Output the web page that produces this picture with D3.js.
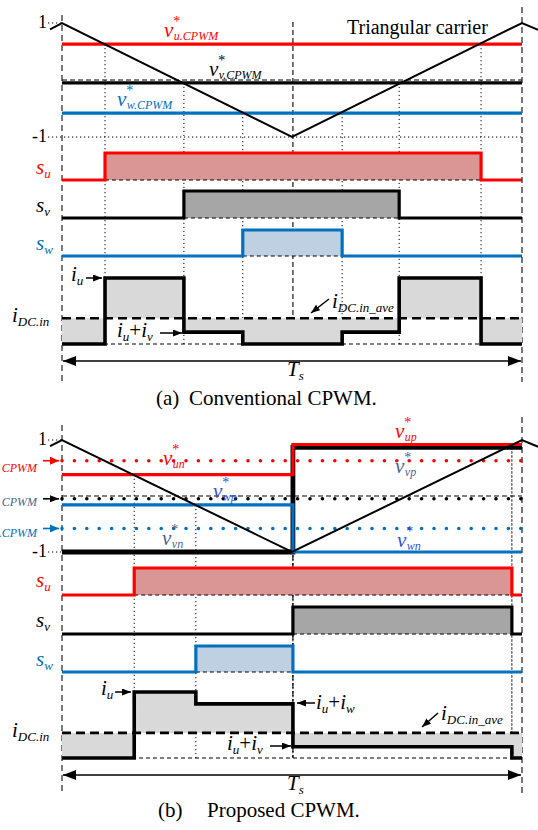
<!DOCTYPE html>
<html><head><meta charset="utf-8">
<script src="https://cdn.jsdelivr.net/npm/d3@7"></script>
<style>body{margin:0;background:#fff;}svg{display:block;}</style>
</head><body>
<script>
// ---------- data ----------
const carrierT = [-0.026, 0, 0.5, 1, 1.035];
const carrierV = [0.89, 1, -1, 1, 0.88];
const phases = ["u", "v", "w"];
const phaseColors = ["#ff0000", "#000000", "#0070c0"];
const fillColors = ["#d99694", "#a6a6a6", "#bfd0e3"];
// (a) conventional CPWM
const refA = [0.63, -0.05, -0.58];
const onA = [0.0935, 0.265, 0.393];
const offA = [0.911, 0.733, 0.609];
const idcTA = [0, 0.0935, 0.265, 0.393, 0.609, 0.733, 0.911, 1];
const idcVA = [0, 1, 0.18, 0, 0.18, 1, 0, 0];
const avgA = 0.39;
// (b) proposed CPWM
const splitT = 0.502;
const refBn = [0.38, -1, -0.16];
const refBp = [0.92, 0.87, -1];
const onB = [0.157, 0.502, 0.291];
const offB = [0.978, 0.978, 0.502];
const idcTB = [0, 0.157, 0.291, 0.502, 0.978, 1];
const idcVB = [0, 1, 0.82, 0.17, 0, 0];
const avgB = 0.38;
const refLabelsA = ["u.CPWM", "v.CPWM", "w.CPWM"];
const refLabelsBn = ["un", "vn", "wp"];
const refLabelsBp = ["up", "vp", "wn"];

// ---------- setup ----------
const SERIF = "'Liberation Serif','Times New Roman',serif";
const RED = "#ff0000", BLUE = "#0070c0", SLATE = "#4a6490", BBLUE = "#2f4fe0";
const svg = d3.select("body").append("svg").attr("width", 538).attr("height", 830);
const defs = svg.append("defs");
function marker(id, color, w, h) {
  defs.append("marker").attr("id", id).attr("markerUnits", "userSpaceOnUse")
    .attr("markerWidth", w).attr("markerHeight", h).attr("refX", w).attr("refY", h / 2)
    .attr("orient", "auto-start-reverse")
    .append("path").attr("d", `M0,0L${w},${h / 2}L0,${h}Z`).attr("fill", color);
}
marker("ak", "#000", 9, 7); marker("ar", RED, 9, 8); marker("ab", BLUE, 9, 8); marker("aT", "#000", 13, 10);

const xs = d3.scaleLinear().domain([0, 1]).range([62, 522]);

function richText(x, y, parts, o = {}) {
  const t = svg.append("text").attr("x", x).attr("y", y).attr("font-family", SERIF)
    .attr("fill", o.color || "#000").attr("text-anchor", o.anchor || "start");
  let shift = 0;
  parts.forEach(([s, k]) => {
    const target = k === "s" ? 4 : 0;
    t.append("tspan").attr("dy", target - shift)
      .attr("font-size", k === "s" ? (o.sub || 13) : (o.size || 21))
      .attr("font-style", k === "n" ? "normal" : "italic").text(s);
    shift = target;
  });
  return t;
}
function vstar(x, y, sub, color) {
  const t = svg.append("text").attr("x", x).attr("y", y).attr("fill", color)
    .attr("font-family", SERIF).attr("font-style", "italic");
  t.append("tspan").attr("font-size", 21).text("v");
  t.append("tspan").attr("font-size", 14).attr("font-style", "normal").attr("dx", 0).attr("dy", -11).text("*");
  t.append("tspan").attr("font-size", 12).attr("dx", -6.5).attr("dy", 14).text(sub);
}
function line(x1, y1, x2, y2, o = {}) {
  const l = svg.append("line").attr("x1", x1).attr("y1", y1).attr("x2", x2).attr("y2", y2)
    .attr("stroke", o.color || "#000").attr("stroke-width", o.w || 1);
  if (o.dash) l.attr("stroke-dasharray", o.dash);
  if (o.cap) l.attr("stroke-linecap", o.cap);
  if (o.end) l.attr("marker-end", `url(#${o.end})`);
  if (o.start) l.attr("marker-start", `url(#${o.start})`);
  return l;
}
const DOT = "1.2,2.8";

function panel(P) {
  const yC = d3.scaleLinear().domain([-1, 1]).range(P.carRange);
  const yI = d3.scaleLinear().domain([0, 1]).range(P.iRange);
  line(xs(0), P.top, xs(0), P.bottom, { color: "#7a7a7a", w: 2, dash: "6,4" });
  line(xs(1), P.top - 8, xs(1), P.bottom, { color: "#555", w: 1.6, dash: "6,4" });
  line(48, yC(1), xs(0), yC(1), { dash: DOT });
  line(48, yC(-1), P.fullMinus ? xs(1) : xs(0), yC(-1), { dash: DOT });
  svg.append("text").attr("x", 47).attr("y", yC(1) + 5).attr("text-anchor", "end")
    .attr("font-family", SERIF).attr("font-size", 18).text("1");
  svg.append("text").attr("x", 47).attr("y", yC(-1) + 5).attr("text-anchor", "end")
    .attr("font-family", SERIF).attr("font-size", 18).text("-1");
  line(xs(0), yC(0), xs(1), yC(0), { dash: "5,3", w: 1.2 });
  P.on.forEach((t, i) => {
    line(xs(t), P.startY(i, "on"), xs(t), yI(0), { dash: DOT });
    line(xs(P.off[i]), P.startY(i, "off"), xs(P.off[i]), yI(0), { dash: DOT });
  });
  line(xs(splitT), P.centerTop, xs(splitT), P.centerBottom, { dash: "5,3", w: 1.1 });
  P.refs(yC);
  svg.append("path").datum(carrierT.map((t, i) => [t, carrierV[i]]))
    .attr("d", d3.line().x(d => xs(d[0])).y(d => yC(d[1])))
    .attr("fill", "none").attr("stroke", "#000").attr("stroke-width", 2);
  phases.forEach((p, i) => {
    const yS = d3.scaleLinear().domain([0, 1]).range(P.sLev[i]);
    const pts = [[0, 0], [P.on[i], 0], [P.on[i], 1], [P.off[i], 1], [P.off[i], 0], [1, 0]];
    svg.append("rect").attr("x", xs(P.on[i])).attr("y", yS(1)).attr("width", xs(P.off[i]) - xs(P.on[i]))
      .attr("height", yS(0) - yS(1)).attr("fill", fillColors[i]);
    line(xs(P.on[i]), yS(0), xs(P.off[i]), yS(0), { dash: "4,3", w: 1.2 });
    svg.append("path").datum(pts).attr("d", d3.line().x(d => xs(d[0])).y(d => yS(d[1])))
      .attr("fill", "none").attr("stroke", phaseColors[i]).attr("stroke-width", 3.2);
    richText(36, P.sLab[i], [["s", "m"], [p, "s"]], { color: phaseColors[i] });
  });
  const idc = P.idcT.map((t, i) => [t, P.idcV[i]]);
  svg.append("path").datum(idc)
    .attr("d", d3.area().curve(d3.curveStepAfter).x(d => xs(d[0])).y0(yI(P.avg)).y1(d => yI(d[1])))
    .attr("fill", "#d9d9d9");
  line(xs(0), yI(0), xs(1), yI(0), { dash: "4,3", w: 1 });
  line(xs(0), yI(P.avg), xs(1), yI(P.avg), { dash: "9,5", w: 2.6 });
  svg.append("path").datum(idc)
    .attr("d", d3.line().curve(d3.curveStepAfter).x(d => xs(d[0])).y(d => yI(d[1])))
    .attr("fill", "none").attr("stroke", "#000").attr("stroke-width", 3.6);
  richText(12, yI(P.avg) + 4, [["i", "m"], ["DC.in", "s"]]);
  line(xs(0) + 1, P.tsY, xs(1) - 1, P.tsY, { w: 1.6, end: "aT", start: "aT" });
  richText(287, P.tsY + 15, [["T", "m"], ["s", "s"]]);
  return { yC, yI };
}

// ---------- panel (a) ----------
const yCA = d3.scaleLinear().domain([-1, 1]).range([137, 23]);
panel({
  carRange: [137, 23], iRange: [344, 278], top: 15, bottom: 382, fullMinus: true,
  on: onA, off: offA, avg: avgA, idcT: idcTA, idcV: idcVA,
  startY: (i) => yCA(refA[i]),
  centerTop: 22, centerBottom: 316,
  sLev: [[180, 153], [218, 191], [256, 230]], sLab: [174, 212, 250], tsY: 361,
  refs: (yC) => {
    phases.forEach((p, i) => line(xs(0), yC(refA[i]), xs(1), yC(refA[i]), { color: phaseColors[i], w: 3.2 }));
  }
});
svg.append("text").attr("x", 347).attr("y", 34).attr("font-family", SERIF).attr("font-size", 20).text("Triangular carrier");
vstar(164, 37, refLabelsA[0], RED);
vstar(209, 76, refLabelsA[1], "#000");
vstar(117, 106, refLabelsA[2], BLUE);
richText(71, 281, [["i", "m"], ["u", "s"]]);
line(86, 278, 102, 278, { w: 1.5, end: "ak" });
richText(117, 337, [["i", "m"], ["u", "s"], ["+", "n"], ["i", "m"], ["v", "s"]]);
line(160, 333, 182, 333, { w: 1.5, end: "ak" });
richText(332, 308, [["i", "m"], ["DC.in_ave", "s"]]);
line(329, 299, 311, 313, { w: 1.5, end: "ak" });
svg.append("text").attr("x", 156).attr("y", 405).attr("font-family", SERIF).attr("font-size", 21).text("(a)");
svg.append("text").attr("x", 189).attr("y", 405).attr("font-family", SERIF).attr("font-size", 21).text("Conventional CPWM.");

// ---------- panel (b) ----------
const yCB = d3.scaleLinear().domain([-1, 1]).range([552, 440]);
panel({
  carRange: [552, 440], iRange: [758, 692], top: 425, bottom: 795, fullMinus: false,
  on: onB, off: offB, avg: avgB, idcT: idcTB, idcV: idcVB,
  startY: (i, k) => {
    if (i === 1) return k === "on" ? 443 : yCB(refBp[1]);
    return k === "on" ? yCB(refBn[i]) : yCB(refBp[i]);
  },
  centerTop: 443, centerBottom: 758,
  sLev: [[595, 568], [634, 607], [672, 646]], sLab: [587, 627, 666], tsY: 775,
  refs: (yC) => {
    phases.forEach((p, i) => line(xs(0), yC(refA[i]), xs(1), yC(refA[i]),
      { color: phaseColors[i], w: 3.6, dash: "0,12.4", cap: "round" }));
    [1, 2, 0].forEach(i => {
      const pts = [[0, refBn[i]], [splitT, refBn[i]], [splitT, refBp[i]], [1, refBp[i]]];
      svg.append("path").datum(pts).attr("d", d3.line().x(d => xs(d[0])).y(d => yC(d[1])))
        .attr("fill", "none").attr("stroke", phaseColors[i]).attr("stroke-width", i === 1 ? 4.8 : 3.2);
    });
  }
});
[[RED, "ar", "CPWM", 472, refA[0]], [SLATE, "ak", "CPWM", 506, refA[1]], [BLUE, "ab", ".CPWM", 537, refA[2]]]
  .forEach(([c, m, s, y, v]) => {
    svg.append("text").attr("x", 37).attr("y", y).attr("text-anchor", "end").attr("font-family", SERIF)
      .attr("font-style", "italic").attr("font-size", 12).attr("fill", c).text(s);
    line(43, yCB(v), 59, yCB(v), { color: c === SLATE ? "#000" : c, w: 1.6, end: m });
  });
vstar(163, 465, refLabelsBn[0], RED);
vstar(162, 545, refLabelsBn[1], SLATE);
vstar(213, 498, refLabelsBn[2], BBLUE);
vstar(395, 438, refLabelsBp[0], RED);
vstar(395, 473, refLabelsBp[1], SLATE);
vstar(397, 547, refLabelsBp[2], BBLUE);
richText(101, 695, [["i", "m"], ["u", "s"]]);
line(115, 692, 131, 692, { w: 1.5, end: "ak" });
line(315, 703, 297, 703, { w: 1.5, end: "ak" });
richText(316, 709, [["i", "m"], ["u", "s"], ["+", "n"], ["i", "m"], ["w", "s"]]);
richText(227, 750, [["i", "m"], ["u", "s"], ["+", "n"], ["i", "m"], ["v", "s"]]);
line(270, 746, 291, 746, { w: 1.5, end: "ak" });
richText(441, 720, [["i", "m"], ["DC.in_ave", "s"]]);
line(438, 713, 422, 727, { w: 1.5, end: "ak" });
svg.append("text").attr("x", 158).attr("y", 817).attr("font-family", SERIF).attr("font-size", 21).text("(b)");
svg.append("text").attr("x", 207).attr("y", 817).attr("font-family", SERIF).attr("font-size", 21).text("Proposed CPWM.");
</script>
</body></html>
